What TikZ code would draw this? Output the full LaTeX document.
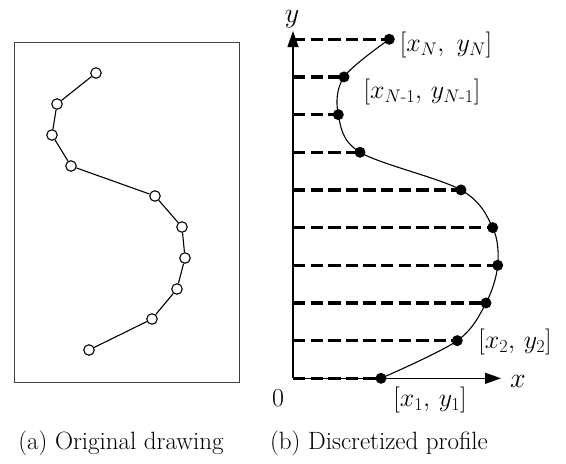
\RequirePackage{fix-cm}
\documentclass[tikz,border=0pt]{standalone}
\usepackage{amsmath}
\usepackage{fontspec}
\usetikzlibrary{arrows.meta}
\newcommand{\hy}{\text{-}}
\tikzset{
  ocirc/.style={circle, draw, fill=white, line width=1.1pt, minimum size=10.5pt, inner sep=0pt},
  odot/.style={circle, fill=black, minimum size=11pt, inner sep=0pt},
  seg/.style={line width=1.1pt},
  dsh/.style={line width=3.5pt, dash pattern=on 12.3pt off 5.3pt},
  axisline/.style={line width=1.3pt, -{Triangle[length=16pt, width=11pt]}},
  lbl/.style={font=\fontsize{26}{26}\selectfont, inner sep=0pt},
  axlbl/.style={font=\fontsize{28}{28}\selectfont, inner sep=0pt, anchor=base},
  captxt/.style={font=\fontsize{25}{25}\selectfont, inner sep=0pt}
}
\begin{document}
\begin{tikzpicture}[x=1pt, y=-1pt]
\useasboundingbox (0,0) rectangle (566,464);
% (a) original drawing
\draw[line width=1pt, draw=black!75] (14,42) rectangle (239,382);
\node[ocirc] (c1) at (96,73) {};
\node[ocirc] (c2) at (57,104) {};
\node[ocirc] (c3) at (52,135) {};
\node[ocirc] (c4) at (71,166) {};
\node[ocirc] (c5) at (155,196) {};
\node[ocirc] (c6) at (182,227) {};
\node[ocirc] (c7) at (185,258) {};
\node[ocirc] (c8) at (177,289) {};
\node[ocirc] (c9) at (152,319) {};
\node[ocirc] (c10) at (89,350) {};
\foreach \a/\b in {c1/c2,c2/c3,c3/c4,c4/c5,c5/c6,c6/c7,c7/c8,c8/c9,c9/c10}
  \draw[seg] (\a) -- (\b);
% (b) discretized profile
\coordinate (o) at (293,378.3);
\coordinate (ytop) at (293,31);
\coordinate (xend) at (501,378.3);
\foreach \k/\px in {0/381,1/457.3,2/486,3/497.7,4/492.7,5/461,6/360,7/338.3,8/344,9/389.3}{
  \pgfmathsetmacro{\py}{378.3-37.67*\k}
  \coordinate (a\k) at (293,\py);
  \coordinate (p\k) at (\px,\py);
}
\foreach \k in {0,...,9}
  \draw[dsh] (a\k) -- (p\k);
\draw[axisline] (o) -- (ytop);
\draw[axisline] (o) -- (xend);
\draw[line width=1.1pt] plot[smooth, tension=0.55] coordinates {(p0) (p1) (p2) (p3) (p4) (p5) (p6) (p7) (p8) (p9)};
\foreach \k in {0,...,9}
  \node[odot] (d\k) at (p\k) {};
\node[axlbl] (ylab) at (292,22) {$y$};
\node[axlbl] (xlab) at (518,387) {$x$};
\node[lbl] (zero) at (278,398) {$0$};
\node[lbl] (lN) at (446,45) {$[x_N,\ y_N]$};
\node[lbl] (lN1) at (422,92) {$[x_{N\hy 1},\, y_{N\hy 1}]$};
\node[lbl] (l2) at (515,342) {$[x_2,\, y_2]$};
\node[lbl] (l1) at (430,400) {$[x_1,\, y_1]$};
\node[captxt] (capa) at (121,443) {(a) Original drawing};
\node[captxt] (capb) at (379,443) {(b) Discretized profile};
\end{tikzpicture}
\end{document}
